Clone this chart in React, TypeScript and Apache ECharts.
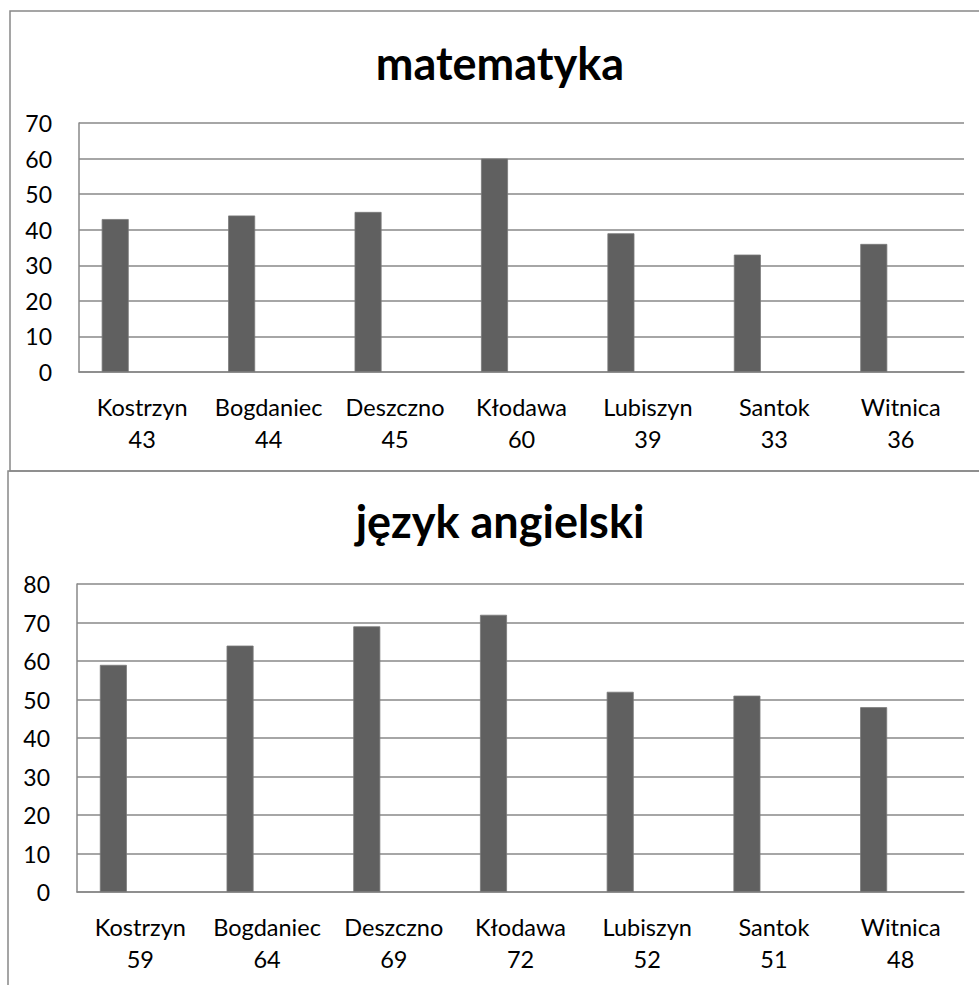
import React, { useEffect, useRef } from "react";
import * as echarts from "echarts";

const categories = ["Kostrzyn", "Bogdaniec", "Deszczno", "Kłodawa", "Lubiszyn", "Santok", "Witnica"];
const mathValues = [43, 44, 45, 60, 39, 33, 36];
const englishValues = [59, 64, 69, 72, 52, 51, 48];
const mathTitle = "matematyka";
const englishTitle = "język angielski";
const mathMax = 70;
const englishMax = 80;
const tickStep = 10;

const FONT = "Lato";
const GRID_COLOR = "#888888";
const BAR_COLOR = "#606060";

export default function App() {
  const ref = useRef<HTMLDivElement>(null);
  useEffect(() => {
    if (!ref.current) return;
    const chart = echarts.init(ref.current, undefined, { renderer: "svg" });
    const empty = categories.map(() => null);

    const xAxisFor = (gridIndex: number, values: number[]) => ({
      type: "category",
      gridIndex,
      data: categories,
      axisTick: { show: false },
      axisLine: { show: true, lineStyle: { color: GRID_COLOR, width: 1.5 } },
      axisLabel: {
        interval: 0,
        margin: 19,
        fontFamily: FONT,
        fontSize: 23.5,
        lineHeight: 32,
        color: "#000",
        formatter: (v: string, i: number) => `${v}\n${values[i]}`,
      },
    });
    const yAxisFor = (gridIndex: number, max: number) => ({
      type: "value",
      gridIndex,
      min: 0,
      max,
      interval: tickStep,
      axisTick: { show: false },
      axisLine: { show: true, lineStyle: { color: GRID_COLOR, width: 1.5 } },
      splitLine: { show: true, lineStyle: { color: GRID_COLOR, width: 1.5 } },
      axisLabel: { margin: 27, fontFamily: FONT, fontSize: 23, color: "#000" },
    });
    const barSeries = (idx: number, data: any[]) => ({
      type: "bar",
      xAxisIndex: idx,
      yAxisIndex: idx,
      data,
      barWidth: 27,
      barGap: "0%",
      itemStyle: { color: BAR_COLOR, borderColor: "#7a7a7a", borderWidth: 0.8 },
    });

    chart.setOption({
      animation: false,
      backgroundColor: "#fff",
      grid: [
        { left: 79, right: 15, top: 123, bottom: 985 - 372 },
        { left: 77, right: 15, top: 584, bottom: 985 - 892 },
      ],
      xAxis: [xAxisFor(0, mathValues), xAxisFor(1, englishValues)],
      yAxis: [yAxisFor(0, mathMax), yAxisFor(1, englishMax)],
      series: [
        barSeries(0, mathValues),
        barSeries(0, empty),
        barSeries(0, empty),
        barSeries(1, englishValues),
        barSeries(1, empty),
        barSeries(1, empty),
      ],
      graphic: [
        {
          type: "rect",
          shape: { x: 10, y: 11, width: 1000, height: 460 },
          style: { fill: "none", stroke: GRID_COLOR, lineWidth: 1.5 },
          silent: true,
          z: -1,
        },
        {
          type: "rect",
          shape: { x: 8, y: 471, width: 1000, height: 600 },
          style: { fill: "none", stroke: GRID_COLOR, lineWidth: 1.5 },
          silent: true,
          z: -1,
        },
        {
          type: "text",
          x: 500,
          y: 63,
          style: {
            text: mathTitle,
            fontFamily: FONT,
            fontWeight: "bold",
            fontSize: 45,
            fill: "#000",
            align: "center",
            verticalAlign: "middle",
          },
        },
        {
          type: "text",
          x: 500,
          y: 521,
          style: {
            text: englishTitle,
            fontFamily: FONT,
            fontWeight: "bold",
            fontSize: 45,
            fill: "#000",
            align: "center",
            verticalAlign: "middle",
          },
        },
      ],
    });
    return () => chart.dispose();
  }, []);

  return (
    <div
      ref={ref}
      style={{ position: "absolute", left: 0, top: 0, width: 979, height: 985 }}
    />
  );
}
